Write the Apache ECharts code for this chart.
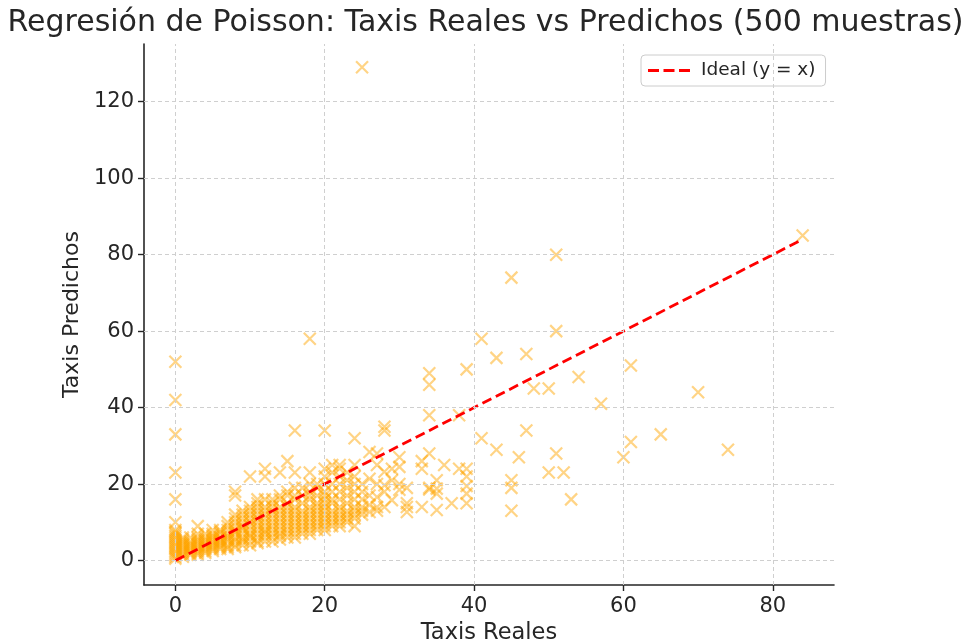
<!DOCTYPE html>
<html>
<head>
<meta charset="utf-8">
<script src="https://cdn.jsdelivr.net/npm/echarts@6/dist/echarts.min.js"></script>
<style>html,body{margin:0;padding:0;background:#fff}#c{width:971px;height:642px}</style>
</head>
<body>
<div id="c"></div>
<script>
// ---- data ----
const titleText = 'Regresión de Poisson: Taxis Reales vs Predichos (500 muestras)';
const xTicks = [0, 20, 40, 60, 80];
const yTicks = [0, 20, 40, 60, 80, 100, 120];

// dense band: actual count -> predicted values
const denseReal = [0,1,2,3,4,5,6,7,8,9,10,11,12,13,14,15,16,17,18,19,20,21,22,23,24,25,26,27,28,29,30,31];
const densePred = [
  [0.5,1,1.5,2,2.5,3,3.5,4,4.5,5,5.5,6,6.5,7,7.5,8,10,16,23,33,42,52],
  [1,1.5,2,2.5,3,3.5,4,4.5,5,5.5,6],
  [1.5,2,2.5,3,3.5,4,4.5,5,6],
  [1.5,2,2.5,3,3.5,4,4.5,5,5.5,6,7,9],
  [2,2.5,3,3.5,4,4.5,5,5.5,6,7],
  [2.5,3,3.5,4,4.5,5,5.5,6,6.5,7,8],
  [3,3.5,4,4.5,5,5.5,6,7,7.5,8],
  [3,3.5,4,5,5.5,6,6.5,7,8,9,10],
  [3.5,4,5,5.5,6,7,7.5,8,9,10,11,12,17,18],
  [4,5,5.5,6,7,8,8.5,9,10,11,12,13],
  [4,5,6,6.5,7,8,9,10,11,12,13,14,22],
  [4.5,5,6,7,8,9,10,11,12,13,14,15,16],
  [5,6,7,7.5,8,9,10,11,12,13,14,16,22,24],
  [5,6,7,8,9,10,11,12,13,14,15,16],
  [5.5,6.5,7,8,9,10,11,12,13,14,16,17,23],
  [6,7,8,9,10,11,12,13,14,15,17,18,26],
  [6,7,8,9,10,11,12,13,14,16,17,19,23,34],
  [7,8,9,10,11,12,13,15,17,19],
  [7,8,9,10,11,12,13,14,16,17,18,20,23,58],
  [8,9,10,11,12,13,14,15,17,19,20],
  [8,9,10,11,12,13,14,15,16,17,18,20,22,24,34],
  [9,10,11,12,13,15,16,18,20,23,25],
  [9,10,11,12,13,14,16,18,20,22,24,25],
  [10,11,12,13,15,17,19,21,23],
  [9,11,12,13,14,16,18,20,22,25,32],
  [12,13,14,16,18,20,129],
  [12.7,14.5,17,21.4,28.4],
  [13,14,16.6,20,25,28],
  [14,18,19.7,23.2,34,35],
  [15.8,21,24],
  [18.5,20,24.5,27],
  [12.7,14,15,19]
];

// sparse points beyond the band
const sparseReal = [33,33,33,34,34,34,34,34,34,35,35,35,35,36,37,38,38,39,39,39,39,39,39,
  41,41,43,43,45,45,45,45,46,47,47,48,50,50,51,51,51,52,53,54,57,60,61,61,65,70,74,84];
const sparsePred = [26,24,14,49,46,38,28,19,18.6,21,18.8,17.5,13.2,25,15,38,24,50,24,22,19.5,17.5,15,
  58,32,53,29,74,21,19,13,27,54,34,45,45,23,80,60,28,23,16,48,41,27,51,31,33,44,29,85];

const idealLine = [[0, 0], [84, 84]];
const seriesNames = ['Predicciones', 'Ideal (y = x)'];
</script>
<script>
const points = [];
denseReal.forEach((x, i) => densePred[i].forEach(y => points.push([x, y])));
sparseReal.forEach((x, i) => points.push([x, sparsePred[i]]));

const FONT = 'DejaVu Sans';
const TXT = '#262626';
const gridColor = '#cfcfcf';
const chart = echarts.init(document.getElementById('c'), null, {renderer: 'canvas'});
chart.setOption({
  animation: false,
  backgroundColor: '#ffffff',
  title: {
    text: titleText, left: 'center', top: 3,
    textStyle: {fontFamily: FONT, fontSize: 30, fontWeight: 'normal', color: TXT}
  },
  legend: {
    data: [{name: seriesNames[1], icon: 'path://M0,0h11v3h-11z M15.5,0h11v3h-11z M31,0h11v3h-11z'}],
    left: 641, top: 55,
    padding: [6, 10, 6, 7],
    itemWidth: 42, itemHeight: 3, itemGap: 10,
    backgroundColor: '#ffffff', borderColor: '#cccccc', borderWidth: 1, borderRadius: 4,
    textStyle: {fontFamily: FONT, fontSize: 18.5, color: TXT, padding: [0, 0, 0, 6]}
  },
  grid: {left: 144, right: 137, top: 44, bottom: 57, containLabel: false, outerBoundsMode: 'none'},
  xAxis: {
    type: 'value', min: -4.2, max: 88.2,
    name: 'Taxis Reales', nameLocation: 'middle', nameGap: 36,
    nameTextStyle: {fontFamily: FONT, fontSize: 22.5, color: TXT},
    axisLine: {show: true, onZero: false, lineStyle: {color: TXT, width: 1.6}},
    axisTick: {show: true, customValues: xTicks, length: 6, lineStyle: {color: TXT, width: 1.4}},
    axisLabel: {customValues: xTicks, margin: 11, fontFamily: FONT, fontSize: 21, color: TXT},
    splitLine: {show: false}
  },
  yAxis: {
    type: 'value', min: -6.4, max: 135.1,
    name: 'Taxis Predichos', nameLocation: 'middle', nameGap: 55, nameRotate: 90,
    nameTextStyle: {fontFamily: FONT, fontSize: 22, color: TXT},
    axisLine: {show: true, onZero: false, lineStyle: {color: TXT, width: 1.6}},
    axisTick: {show: true, customValues: yTicks, length: 6, lineStyle: {color: TXT, width: 1.4}},
    axisLabel: {customValues: yTicks, margin: 10, fontFamily: FONT, fontSize: 21, color: TXT},
    splitLine: {show: false}
  },
  series: [
    {
      name: 'grid', type: 'line', data: [], z: 0, silent: true,
      markLine: {
        silent: true, symbol: 'none', label: {show: false},
        lineStyle: {color: gridColor, type: [4, 3], width: 1},
        data: xTicks.map(v => ({xAxis: v})).concat(yTicks.map(v => ({yAxis: v})))
      }
    },
    {
      name: seriesNames[0], type: 'scatter', z: 2,
      symbol: 'path://M0,0L10,10M10,0L0,10', symbolSize: 12,
      itemStyle: {color: 'rgba(0,0,0,0)', borderColor: 'rgba(255,165,0,0.6)', borderWidth: 2.2},
      data: points
    },
    {
      name: seriesNames[1], type: 'line', z: 3, symbol: 'none',
      lineStyle: {color: '#ff0000', width: 2.8, type: [10, 5]},
      itemStyle: {color: '#ff0000'},
      data: idealLine
    }
  ]
});
</script>
</body>
</html>
